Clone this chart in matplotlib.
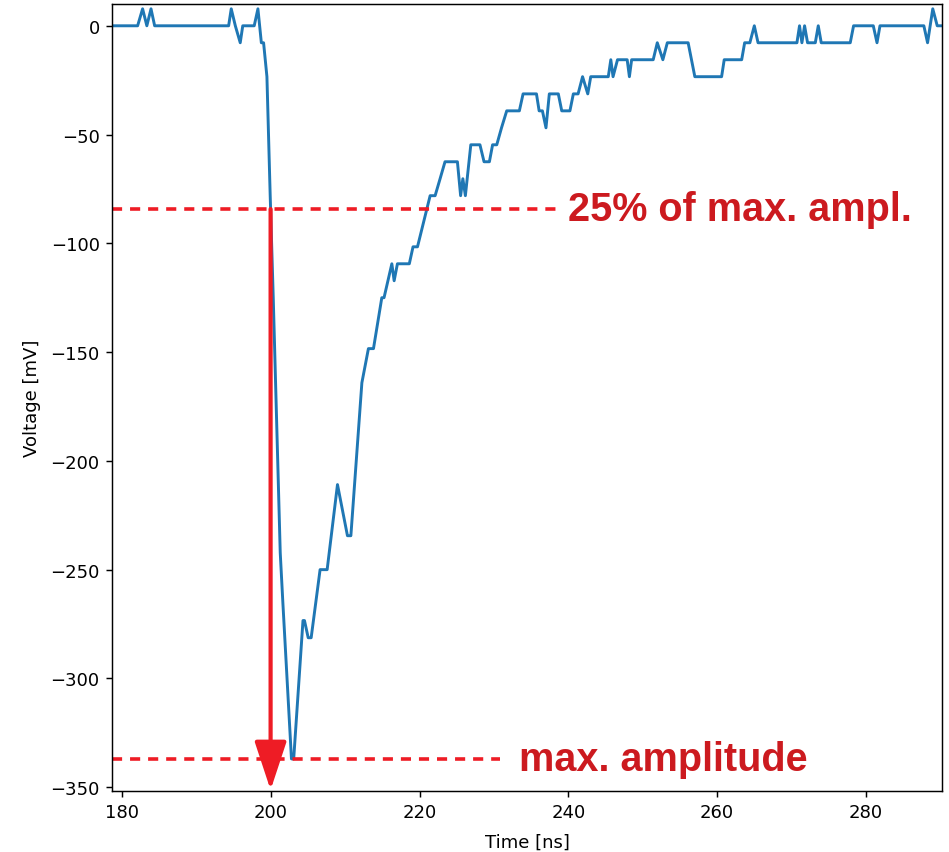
import numpy as np
import matplotlib
matplotlib.use("Agg")
import matplotlib.pyplot as plt

# pulse trace (corner points of the recorded waveform)
time_ns = [178.65, 182.06, 182.73, 183.3, 183.86, 184.35, 194.3, 194.65, 195.2, 195.86,
           196.2, 197.74, 198.24, 198.7, 199.0, 199.45, 199.89, 200.3, 201.24, 201.6,
           202.75, 203.05, 204.3, 204.5, 205.0, 205.4, 206.6, 207.55, 208.94, 210.28,
           210.74, 212.22, 213.1, 213.78, 214.9, 215.2, 216.25, 216.56, 217.0, 218.6,
           219.1, 219.7, 221.4, 222.07, 222.74, 223.4, 225.07, 225.5, 225.8, 226.14,
           226.87, 228.1, 228.65, 229.37, 229.8, 230.36, 231.0, 231.7, 233.4, 233.9,
           235.7, 236.06, 236.5, 236.98, 237.43, 238.64, 239.1, 240.2, 240.66, 241.3,
           241.9, 242.6, 243.0, 245.36, 245.7, 246.0, 246.6, 247.9, 248.2, 248.5,
           251.4, 251.95, 252.7, 253.3, 256.1, 257.0, 260.6, 260.95, 263.3, 263.7,
           264.4, 265.0, 265.5, 270.73, 271.08, 271.4, 271.76, 272.16, 273.2, 273.6,
           274.0, 274.4, 277.9, 278.35, 281.0, 281.5, 281.9, 287.8, 288.3, 289.0,
           289.6, 290.2]
voltage_mv = [0.0, 0.0, 7.8, 0.0, 7.8, 0.0, 0.0, 7.8, 0.0, -7.8,
              0.0, 0.0, 7.8, -7.8, -7.8, -23.4, -78.1, -125.0, -242.2, -265.6,
              -337.0, -337.0, -273.4, -273.4, -281.3, -281.3, -250.0, -250.0, -210.9, -234.4,
              -234.4, -164.1, -148.4, -148.4, -125.0, -125.0, -109.4, -117.2, -109.4, -109.4,
              -101.6, -101.6, -78.1, -78.1, -70.3, -62.5, -62.5, -78.1, -70.3, -78.1,
              -54.7, -54.7, -62.5, -62.5, -54.7, -54.7, -46.9, -39.1, -39.1, -31.3,
              -31.3, -39.1, -39.1, -46.9, -31.3, -31.3, -39.1, -39.1, -31.3, -31.3,
              -23.4, -31.3, -23.4, -23.4, -15.6, -23.4, -15.6, -15.6, -23.4, -15.6,
              -15.6, -7.8, -15.6, -7.8, -7.8, -23.4, -23.4, -15.6, -15.6, -7.8,
              -7.8, 0.0, -7.8, -7.8, 0.0, -7.8, 0.0, -7.8, -7.8, 0.0,
              -7.8, -7.8, -7.8, 0.0, 0.0, -7.8, 0.0, 0.0, -7.8, 7.8,
              0.0, 0.0]

t = np.array(time_ns)
v = np.array(voltage_mv)

red = "#ee1c25"
dark_red = "#cc1a1f"

fig = plt.figure(figsize=(9.49, 8.53), dpi=100)
ax = fig.add_axes([0.1183, 0.0719, 0.8740, 0.9222])

ax.plot(t, v, color="#1f77b4", lw=2.1)

# max amplitude and 25% threshold
i_min = np.argmin(v)
v_max = v[i_min]
v_25 = 0.25 * v_max
# first crossing of the threshold on the falling edge
fall_t = t[:i_min + 1][::-1]
fall_v = v[:i_min + 1][::-1]
t_25 = np.interp(v_25, fall_v, fall_t)

ax.plot([178.65, 239.2], [v_25, v_25], color=red, lw=2.6, dashes=(2.8, 2.2))
ax.plot([178.65, 230.8], [v_max, v_max], color=red, lw=2.6, dashes=(2.8, 2.2))
ax.annotate("", xy=(t_25, -351.3), xytext=(t_25, v_25),
            arrowprops=dict(arrowstyle="-|>,head_length=1.0,head_width=0.33",
                            mutation_scale=30, color=red, lw=3, shrinkA=0, shrinkB=0))

ax.text(239.9, v_25, "25% of max. ampl.", color=dark_red, fontsize=28.5,
        fontweight="bold", family="Liberation Sans", va="center", ha="left")
ax.text(233.3, v_max, "max. amplitude", color=dark_red, fontsize=28.5,
        fontweight="bold", family="Liberation Sans", va="center", ha="left")

ax.set_xlim(178.65, 290.2)
ax.set_ylim(-351.6, 10.0)
ax.set_xticks([180, 200, 220, 240, 260, 280])
ax.set_yticks([0, -50, -100, -150, -200, -250, -300, -350])
ax.tick_params(labelsize=13, length=4.6, width=1.05, pad=4.5)
for sp in ax.spines.values():
    sp.set_linewidth(1.05)
ax.set_xlabel("Time [ns]", fontsize=13, labelpad=8)
ax.set_ylabel("Voltage [mV]", fontsize=13, labelpad=7)

fig.savefig("out.png", dpi=100)
